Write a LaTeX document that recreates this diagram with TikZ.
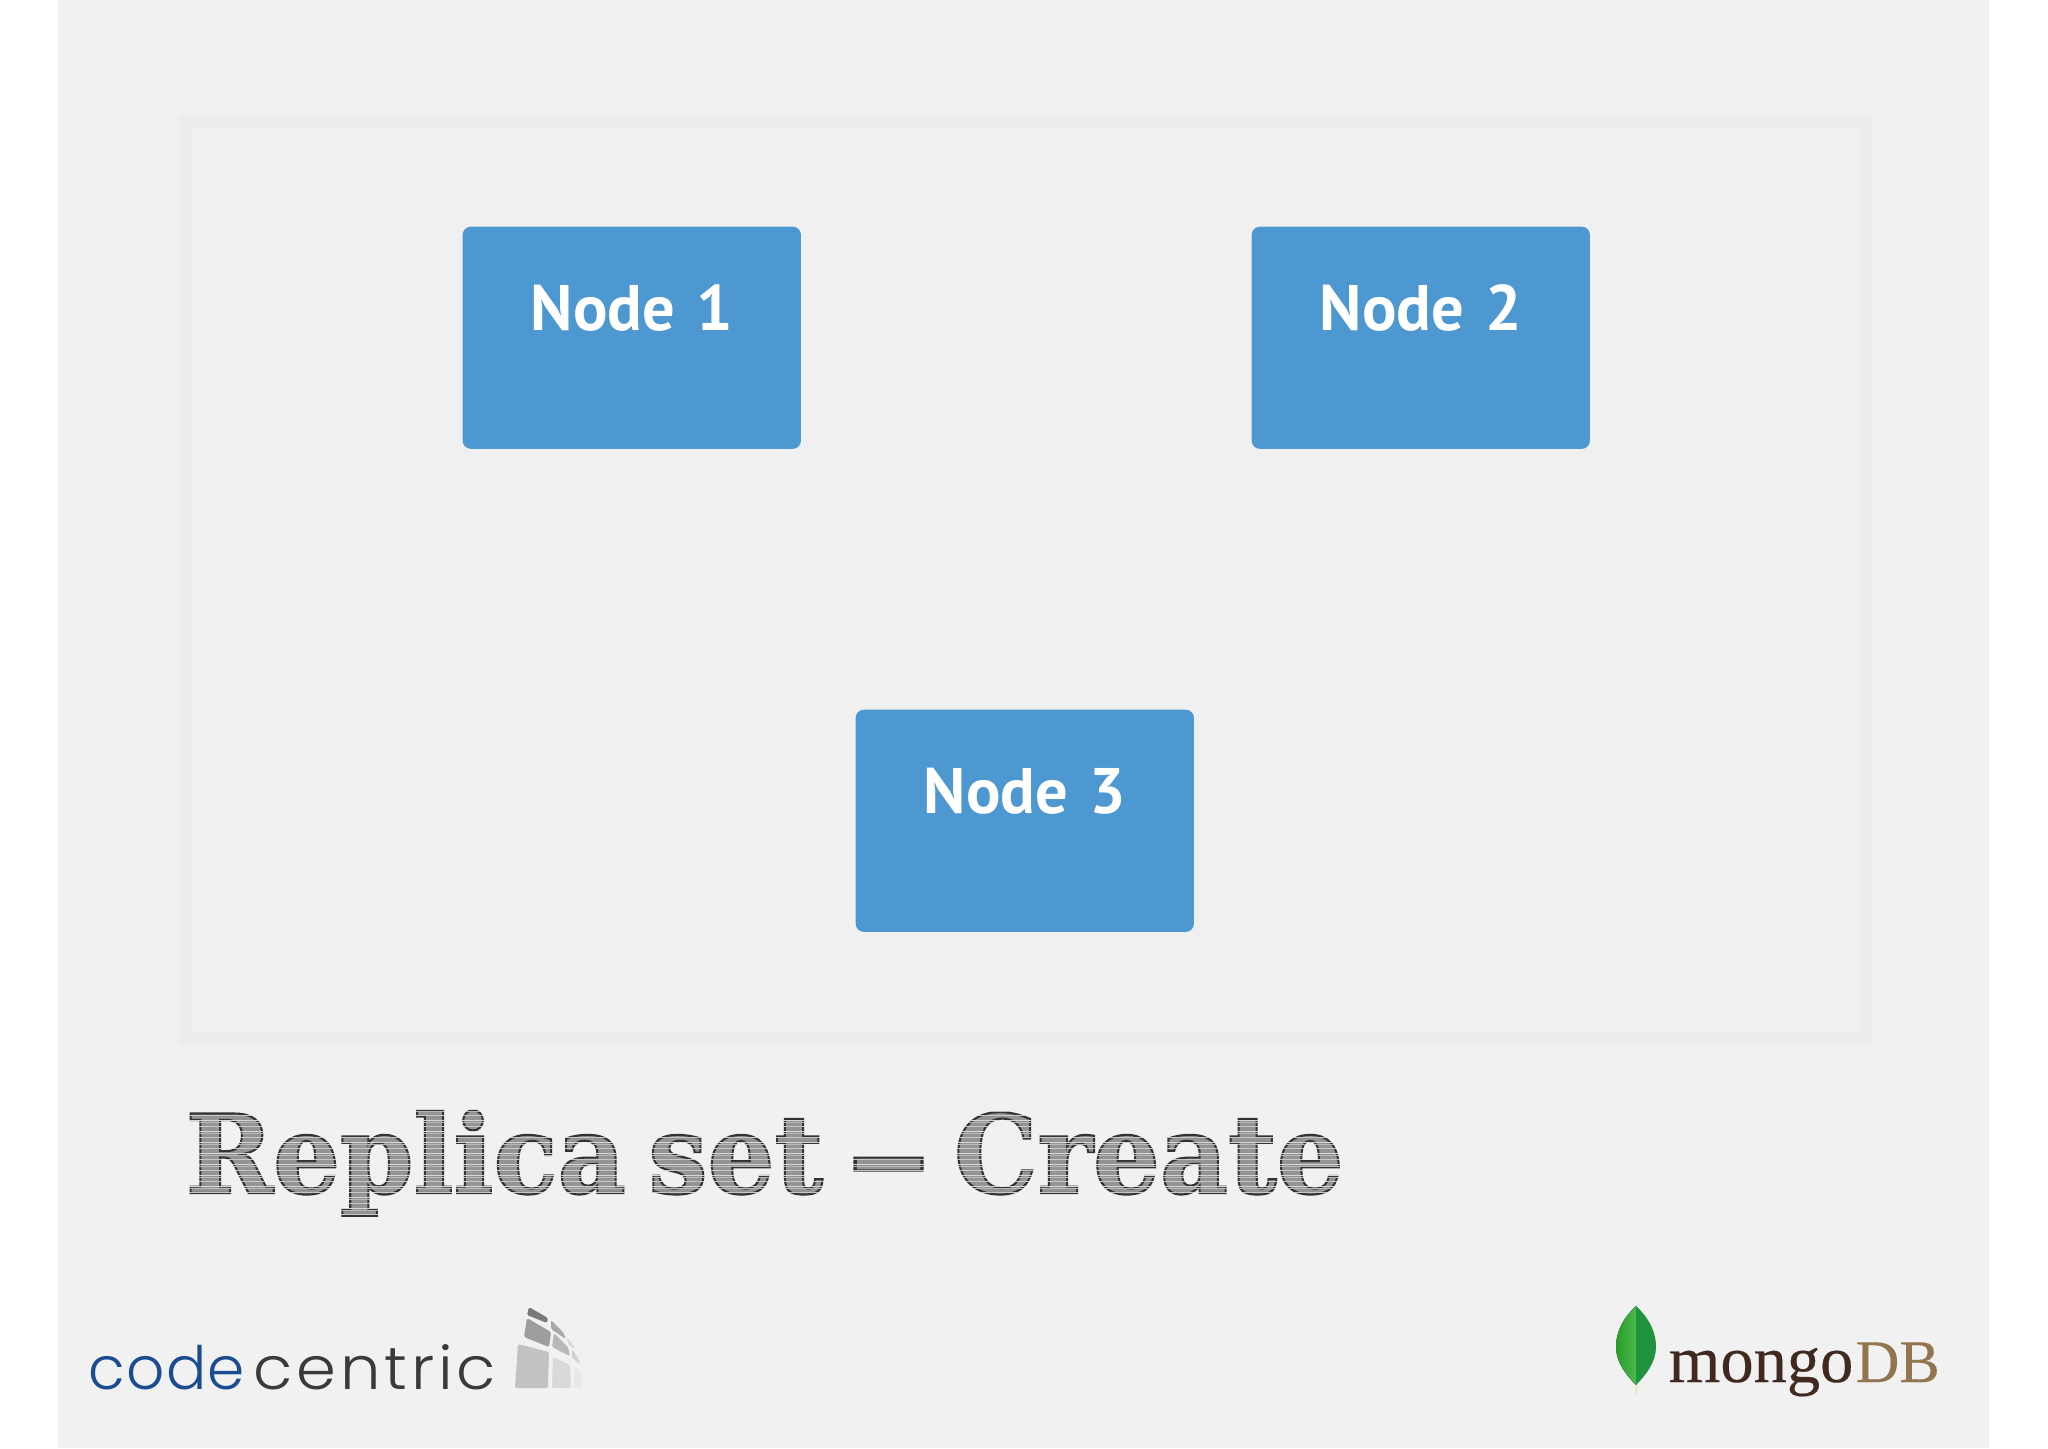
\documentclass[tikz,border=0pt]{standalone}
\usepackage{fontspec}
\setmainfont{PT Sans}
\newfontfamily\titlefont{DejaVu Serif}[BoldFont=* Bold,WordSpace=0.62]
\newfontfamily\ccfonta{Poppins}[UprightFont=* Light,LetterSpace=2]
\newfontfamily\ccfontb{Poppins}[UprightFont=* Light,LetterSpace=6]
\newfontfamily\mgfont{Liberation Serif}[FakeBold=0.25]
\newfontfamily\nodefont{PT Sans}[WordSpace=0.45]
\usetikzlibrary{calc}
\definecolor{paper}{HTML}{F1F1F2}
\definecolor{framecol}{HTML}{EDEDEE}
\definecolor{panel}{HTML}{F0F0F1}
\definecolor{nodeblue}{HTML}{4D98D1}
\definecolor{ccblue}{HTML}{1C4C90}
\definecolor{ccdark}{HTML}{3A3A3A}
\definecolor{mgdark}{HTML}{40291F}
\definecolor{mgtan}{HTML}{90754F}
\newcommand{\sketchon}{\special{pdf:code 0.2 0.2 0.2 RG 0.6 w 2 Tr}}
\tikzset{
  nodebox/.style={fill=nodeblue,text=white,rounded corners=0.08cm,inner sep=0pt,anchor=north west,
    text width=3.38cm,align=center,text height=1.04cm,text depth=1.18cm,
    font=\nodefont\fontsize{18.3pt}{20pt}\selectfont\bfseries},
  basetext/.style={inner sep=0pt,anchor=base west},
  ccgrey/.style={rounded corners=0.015cm},
}
\begin{document}
\begin{tikzpicture}[x=0.01cm,y=-0.01cm]
\useasboundingbox (0,0) rectangle (2048,1448);
\fill[white] (0,0) rectangle (2048,1448);
\fill[paper] (58,0) rectangle (1989,1448);
\fill[framecol] (179,115) rectangle (1872,1045);
\fill[panel] (190.5,128) rectangle (1860,1032);
\node[nodebox] (n1) at (462,226) {Node 1};
\node[nodebox] (n2) at (1251,226) {Node 2};
\node[nodebox] (n3) at (855,709) {Node 3};
% title
\node[basetext,text=black!42] (title) at (185,1193) {\sketchon\scalebox{0.965}[1.0]{\titlefont\bfseries\fontsize{31pt}{33pt}\selectfont \sketchon Replica set \scalebox{1.62}[1]{\sketchon –}\sketchon{} Create}\special{pdf:code 0 Tr}};
\begin{scope}[blend mode=lighten]
\foreach \i in {0,...,62}{
  \pgfmathsetmacro{\yy}{1098+\i*2.2}
  \pgfmathsetmacro{\gg}{int(mod(\i*7,5))}
  \ifnum\gg<3
    \draw[line width=0.01cm,color=black!\the\numexpr 16+\gg*6\relax] (180,\yy) -- (1350,\yy);
  \fi
}
\end{scope}
% codecentric
\node[basetext,text=ccblue] (cc1) at (88,1389) {\ccfonta\fontsize{17pt}{18pt}\selectfont code};
\node[basetext,text=ccdark] (cc2) at (253,1389) {\scalebox{1.07}[1]{\ccfontb\fontsize{17pt}{18pt}\selectfont centric}};
\fill[black!24,ccgrey] (518,1344) -- (549,1352) -- (548,1388) -- (515,1388) -- cycle;
\fill[black!15,ccgrey] (553,1357) -- (570,1365) -- (571,1388) -- (552,1388) -- cycle;
\fill[black!9,ccgrey] (574,1367) -- (581,1372) -- (582,1388) -- (574,1388) -- cycle;
\fill[black!38,ccgrey] (527,1318) -- (551,1332) -- (549,1347) -- (524,1337) -- cycle;
\fill[black!28,ccgrey] (554,1333) -- (568,1347) -- (570,1356) -- (552,1347) -- cycle;
\fill[black!18,ccgrey] (572,1349) -- (578,1358) -- (580,1364) -- (572,1358) -- cycle;
\fill[black!52,ccgrey] (529,1307) -- (548,1318) -- (547,1323) -- (527,1315) -- cycle;
\fill[black!34,ccgrey] (551,1320) -- (563,1332) -- (566,1339) -- (551,1329) -- cycle;
\fill[black!15,ccgrey] (567,1337) -- (574,1346) -- (575,1349) -- (568,1344) -- cycle;
% mongoDB
\fill[black!25!yellow!40!white] (1635,1380) -- (1637.5,1380) -- (1637,1395) -- (1636,1395) -- cycle;
\fill[left color=green!55!black!85!white, right color=green!60!black!70!white] (1636,1306) .. controls (1622,1319) and (1616,1333) .. (1616,1347) .. controls (1616,1362) and (1626,1375) .. (1636,1385) -- cycle;
\fill[color={rgb,255:red,33;green,146;blue,62}] (1636,1306) .. controls (1650,1319) and (1656,1333) .. (1656,1347) .. controls (1656,1362) and (1646,1375) .. (1636,1385) -- cycle;
\node[basetext,text=mgdark] (mg1) at (1668,1382) {\mgfont\fontsize{18.9pt}{20pt}\selectfont mongo};
\node[basetext,text=mgtan] (mg2) at (1855,1382) {\mgfont\fontsize{17.2pt}{20pt}\selectfont DB};
\end{tikzpicture}
\end{document}
